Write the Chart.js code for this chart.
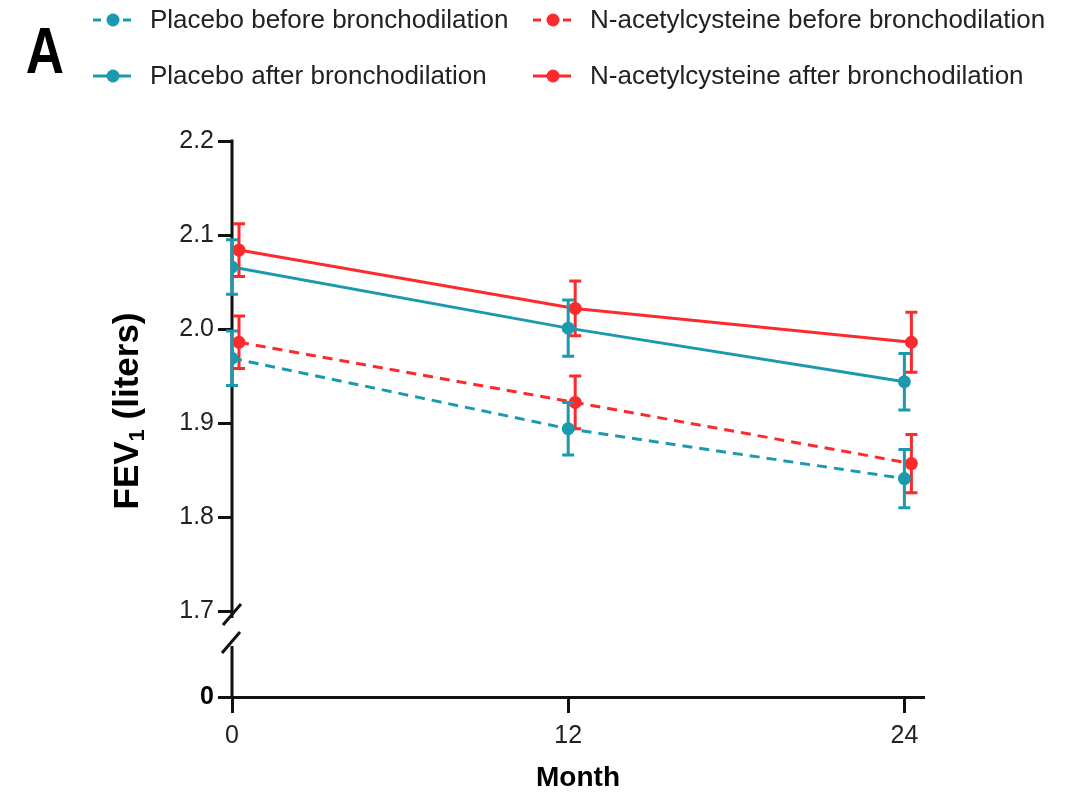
<!DOCTYPE html>
<html>
<head>
<meta charset="utf-8">
<script src="https://cdn.jsdelivr.net/npm/chart.js@4.4.1/dist/chart.umd.min.js"></script>
<style>
  html, body { margin: 0; padding: 0; background: #ffffff; }
  #wrap { width: 1079px; height: 796px; position: relative; }
  canvas { display: block; }
</style>
</head>
<body>
<div id="wrap"><canvas id="fevChart" width="1079" height="796"></canvas></div>
<script>
// FEV1 over follow-up, mean with error bars
const months = [0, 12, 24];
const yTickValues = [1.7, 1.8, 1.9, 2.0, 2.1, 2.2];
const lowTickValues = [0];

const placeboBefore    = [1.969, 1.894, 1.841];
const placeboBeforeErr = [0.029, 0.028, 0.031];
const nacBefore        = [1.986, 1.922, 1.857];
const nacBeforeErr     = [0.028, 0.028, 0.031];
const placeboAfter     = [2.066, 2.001, 1.944];
const placeboAfterErr  = [0.029, 0.030, 0.030];
const nacAfter         = [2.084, 2.022, 1.986];
const nacAfterErr      = [0.028, 0.029, 0.032];

const seriesLabels = [
  'Placebo before bronchodilation',
  'N-acetylcysteine before bronchodilation',
  'Placebo after bronchodilation',
  'N-acetylcysteine after bronchodilation'
];

// small horizontal nudge so the two arms do not overlap
const PLACEBO_SHIFT = 0;
const NAC_SHIFT = 0.25;

const TEAL = '#1b9aae';
const RED = '#fb2b2d';
const INK = '#111111';
const TEXT = '#222222';
const FONT = '"Liberation Sans", Arial, Helvetica, sans-serif';

function points(values, shift) {
  return values.map((v, i) => ({ x: months[i] + shift, y: v }));
}

function series(label, values, errs, shift, color, dashed) {
  return {
    label: label,
    data: points(values, shift),
    errors: errs,
    borderColor: color,
    backgroundColor: color,
    borderWidth: 3,
    borderDash: dashed ? [10, 7] : [],
    pointRadius: 6.5,
    pointBorderWidth: 0,
    pointBackgroundColor: color,
    tension: 0,
    fill: false,
    yAxisID: 'y',
    dashed: dashed
  };
}

const datasets = [
  series(seriesLabels[0], placeboBefore, placeboBeforeErr, PLACEBO_SHIFT, TEAL, true),
  series(seriesLabels[1], nacBefore, nacBeforeErr, NAC_SHIFT, RED, true),
  series(seriesLabels[2], placeboAfter, placeboAfterErr, PLACEBO_SHIFT, TEAL, false),
  series(seriesLabels[3], nacAfter, nacAfterErr, NAC_SHIFT, RED, false)
];

// vertical error bars with caps, drawn per dataset
const errorBars = {
  id: 'errorBars',
  afterDatasetDraw(chart, args) {
    const ds = chart.data.datasets[args.index];
    const meta = args.meta;
    const ys = chart.scales.y;
    const ctx = chart.ctx;
    ctx.save();
    ctx.strokeStyle = ds.borderColor;
    ctx.lineWidth = 3;
    ctx.setLineDash([]);
    ds.data.forEach((p, i) => {
      const e = ds.errors[i];
      const px = meta.data[i].x;
      const top = ys.getPixelForValue(p.y + e);
      const bot = ys.getPixelForValue(p.y - e);
      ctx.beginPath();
      ctx.moveTo(px, top); ctx.lineTo(px, bot);
      ctx.moveTo(px - 6, top); ctx.lineTo(px + 6, top);
      ctx.moveTo(px - 6, bot); ctx.lineTo(px + 6, bot);
      ctx.stroke();
    });
    ctx.restore();
  }
};

// broken y axis line with the two slashes
const brokenAxis = {
  id: 'brokenAxis',
  beforeDatasetsDraw(chart) {
    const ctx = chart.ctx;
    const up = chart.scales.y;
    const low = chart.scales.yLow;
    const x = chart.chartArea.left;
    const split = up.bottom;
    ctx.save();
    ctx.strokeStyle = INK;
    ctx.lineWidth = 3;
    ctx.lineCap = 'butt';
    ctx.beginPath();
    ctx.moveTo(x, up.getPixelForValue(up.max) - 1.5);
    ctx.lineTo(x, split - 12);
    ctx.moveTo(x, low.bottom + 1.5);
    ctx.lineTo(x, split + 16);
    ctx.stroke();
    ctx.beginPath();
    ctx.moveTo(x - 9, split - 5); ctx.lineTo(x + 9, split - 26);
    ctx.moveTo(x - 10, split + 23); ctx.lineTo(x + 8, split + 2);
    ctx.stroke();
    ctx.restore();
  }
};

// panel letter, legend and y axis title
const annotations = {
  id: 'annotations',
  afterDraw(chart) {
    const ctx = chart.ctx;
    ctx.save();

    // panel letter
    ctx.fillStyle = '#000';
    ctx.font = 'bold 53px ' + FONT;
    ctx.textAlign = 'center';
    ctx.textBaseline = 'alphabetic';
    ctx.translate(45, 73);
    ctx.scale(1, 1.22);
    ctx.fillText('A', 0, 0);
    ctx.setTransform(1, 0, 0, 1, 0, 0);

    // legend in two columns
    const colX = [93, 533];
    const rowY = [20, 76];
    chart.data.datasets.forEach((ds, i) => {
      const x0 = colX[i % 2];
      const y0 = rowY[Math.floor(i / 2)];
      ctx.strokeStyle = ds.borderColor;
      ctx.fillStyle = ds.borderColor;
      ctx.lineWidth = 3;
      ctx.setLineDash(ds.dashed ? [8, 7] : []);
      ctx.beginPath();
      ctx.moveTo(x0, y0); ctx.lineTo(x0 + 38, y0);
      ctx.stroke();
      ctx.setLineDash([]);
      ctx.beginPath();
      ctx.arc(x0 + 20, y0, 6.5, 0, Math.PI * 2);
      ctx.fill();
      ctx.fillStyle = TEXT;
      ctx.font = '26px ' + FONT;
      ctx.textAlign = 'left';
      ctx.textBaseline = 'middle';
      ctx.fillText(ds.label, x0 + 57, y0 + 1);
    });

    // y axis title with subscript
    const main = 'FEV';
    const sub = '1';
    const rest = ' (liters)';
    const bigFont = 'bold 35px ' + FONT;
    const subFont = 'bold 22px ' + FONT;
    ctx.font = bigFont;
    const wMain = ctx.measureText(main).width;
    const wRest = ctx.measureText(rest).width;
    ctx.font = subFont;
    const wSub = ctx.measureText(sub).width;
    const total = wMain + wSub + wRest;
    ctx.translate(126, 411);
    ctx.rotate(-Math.PI / 2);
    ctx.fillStyle = '#000';
    ctx.textAlign = 'left';
    ctx.textBaseline = 'alphabetic';
    let cx = -total / 2;
    ctx.font = bigFont;
    ctx.fillText(main, cx, 12);
    cx += wMain;
    ctx.font = subFont;
    ctx.fillText(sub, cx, 18);
    cx += wSub;
    ctx.font = bigFont;
    ctx.fillText(rest, cx, 12);
    ctx.restore();
  }
};

const tickGrid = (len) => ({
  drawOnChartArea: false,
  drawTicks: true,
  tickLength: len,
  tickWidth: 3,
  tickColor: INK
});

new Chart(document.getElementById('fevChart'), {
  type: 'line',
  data: { datasets: datasets },
  options: {
    responsive: false,
    animation: false,
    devicePixelRatio: 1,
    layout: { padding: { top: 141, right: 155, left: 0, bottom: 0 } },
    plugins: {
      legend: { display: false },
      tooltip: { enabled: false }
    },
    scales: {
      x: {
        type: 'linear',
        position: 'bottom',
        min: 0,
        max: 24.7,
        afterBuildTicks: (s) => { s.ticks = months.map(v => ({ value: v })); },
        afterFit: (s) => { s.height = 99; },
        border: { display: true, color: INK, width: 3 },
        grid: tickGrid(16),
        ticks: {
          font: { family: FONT, size: 25 },
          color: TEXT,
          padding: 8,
          maxRotation: 0,
          autoSkip: false
        },
        title: {
          display: true,
          text: 'Month',
          font: { family: FONT, size: 28, weight: 'bold' },
          color: '#000',
          padding: { top: 0, bottom: 1 }
        }
      },
      yLow: {
        type: 'linear',
        position: 'left',
        stack: 'fev',
        stackWeight: 67,
        min: 0,
        max: 1,
        afterBuildTicks: (s) => { s.ticks = lowTickValues.map(v => ({ value: v })); },
        afterFit: (s) => { s.width = 232; },
        border: { display: false },
        grid: tickGrid(14),
        ticks: {
          font: { family: FONT, size: 25, weight: 'bold' },
          color: '#000',
          padding: 4,
          callback: (v) => String(v)
        }
      },
      y: {
        type: 'linear',
        position: 'left',
        stack: 'fev',
        stackWeight: 489,
        min: 1.68,
        max: 2.2,
        afterBuildTicks: (s) => { s.ticks = yTickValues.map(v => ({ value: v })); },
        afterFit: (s) => { s.width = 232; },
        border: { display: false },
        grid: tickGrid(14),
        ticks: {
          font: { family: FONT, size: 25 },
          color: TEXT,
          padding: 4,
          callback: (v) => Number(v).toFixed(1)
        }
      }
    }
  },
  plugins: [brokenAxis, errorBars, annotations]
});
</script>
</body>
</html>
